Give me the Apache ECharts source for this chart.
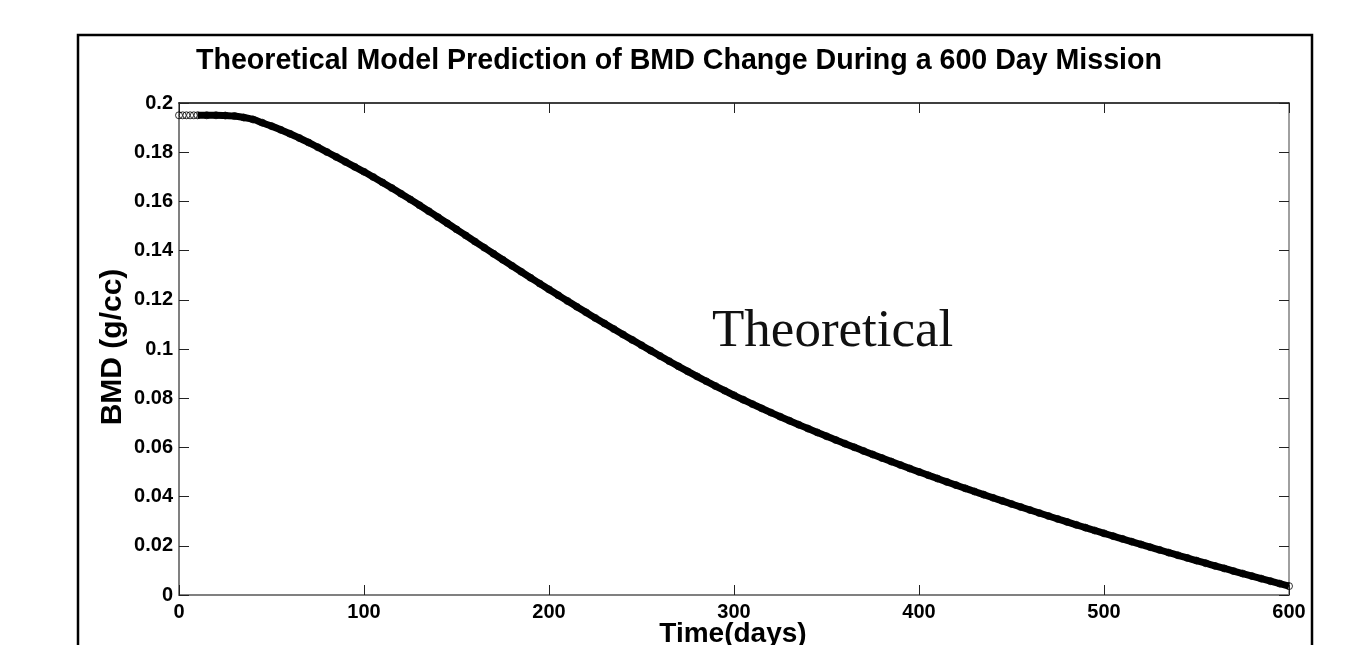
<!DOCTYPE html>
<html>
<head>
<meta charset="utf-8">
<script src="https://cdn.jsdelivr.net/npm/echarts@6/dist/echarts.min.js"></script>
<style>
html,body{margin:0;padding:0;background:#fff;}
#chart{width:1354px;height:645px;}
</style>
</head>
<body>
<div id="chart"></div>
<script>
const titleText = 'Theoretical Model Prediction of BMD Change During a 600 Day Mission';
const xAxisName = 'Time(days)';
const yAxisName = 'BMD (g/cc)';
const annotationText = 'Theoretical';

const days = [0,2,4,6,8,
  10,15,20,25,30,35,40,45,50,55,60,65,70,75,80,85,90,95,100,
  105,110,115,120,125,130,135,140,145,150,
  155,160,165,170,175,180,185,190,195,200,
  205,210,215,220,225,230,235,240,245,250,
  255,260,265,270,275,280,285,290,295,300,
  305,310,315,320,325,330,335,340,345,350,
  355,360,365,370,375,380,385,390,395,400,
  405,410,415,420,425,430,435,440,445,450,
  455,460,465,470,475,480,485,490,495,500,
  505,510,515,520,525,530,535,540,545,550,
  555,560,565,570,575,580,585,590,595,600];

const bmd = [0.1950,0.1950,0.1950,0.1950,0.1950,
  0.1950,0.1950,0.1950,0.1949,0.1947,0.1941,0.1933,0.1920,0.1906,0.1891,0.1875,0.18578,0.18395,0.18203,0.18007,0.17807,0.17605,0.17405,0.17205,
  0.16990,0.16770,0.16545,0.16315,0.16081,0.15843,0.15602,0.15358,0.15112,0.14864,
  0.14616,0.14368,0.14120,0.13873,0.13627,0.13382,0.13139,0.12898,0.12659,0.12422,
  0.12186,0.11952,0.11720,0.11490,0.11262,0.11036,0.10812,0.10590,0.10370,0.10152,
  0.09934,0.09718,0.09505,0.09295,0.09089,0.08887,0.08689,0.08495,0.08305,0.08119,
  0.07937,0.07759,0.07585,0.07415,0.07248,0.07084,0.06923,0.06765,0.06609,0.06455,
  0.06303,0.06153,0.06004,0.05857,0.05711,0.05567,0.05424,0.05283,0.05143,0.05005,
  0.04868,0.04733,0.04599,0.04467,0.04336,0.04207,0.04079,0.03952,0.03826,0.03701,
  0.03577,0.03454,0.03332,0.03211,0.03091,0.02972,0.02854,0.02737,0.02621,0.02506,
  0.02392,0.02279,0.02166,0.02054,0.01943,0.01833,0.01723,0.01614,0.01506,0.01398,
  0.01291,0.01185,0.01080,0.00975,0.00871,0.00768,0.00665,0.00563,0.00462,0.00362];

const xTickLabels = ['0','100','200','300','400','500','600'];
const yTickLabels = ['0','0.02','0.04','0.06','0.08','0.1','0.12','0.14','0.16','0.18','0.2'];

const FONT = '"Liberation Sans", Arial, sans-serif';
const pts = days.map((d, i) => [d, bmd[i]]);
const linePts = pts.filter(p => p[0] >= 10);

const chart = echarts.init(document.getElementById('chart'), null, {renderer: 'canvas'});

const tickStyle = {show: true, inside: true, length: 10, lineStyle: {color: '#222', width: 1}};

chart.setOption({
  backgroundColor: '#ffffff',
  animation: false,
  title: {
    text: titleText,
    left: 191, top: 42,
    textStyle: {fontFamily: FONT, fontWeight: 'bold', fontSize: 28.6, color: '#000'}
  },
  grid: {left: 179, top: 103, right: 65, bottom: 50, show: false, containLabel: false},
  xAxis: [{
    type: 'value', position: 'bottom', min: 0, max: 600, interval: 100,
    axisLine: {show: true, lineStyle: {color: '#808080', width: 2}},
    axisTick: tickStyle,
    splitLine: {show: false},
    axisLabel: {show: true, margin: 7, color: '#000', fontFamily: FONT, fontWeight: 'bold', fontSize: 20,
      formatter: v => xTickLabels[Math.round(v / 100)]}
  }, {
    type: 'value', position: 'top', min: 0, max: 600, interval: 100,
    axisLine: {show: true, onZero: false, lineStyle: {color: '#000', width: 1.5}},
    axisTick: tickStyle,
    splitLine: {show: false},
    axisLabel: {show: false}
  }],
  yAxis: [{
    type: 'value', position: 'left', min: 0, max: 0.2, interval: 0.02,
    axisLine: {show: true, onZero: false, lineStyle: {color: '#808080', width: 2}},
    axisTick: tickStyle,
    splitLine: {show: false},
    axisLabel: {show: true, margin: 6, color: '#000', fontFamily: FONT, fontWeight: 'bold', fontSize: 20,
      formatter: v => yTickLabels[Math.round(v / 0.02)]}
  }, {
    type: 'value', position: 'right', min: 0, max: 0.2, interval: 0.02,
    axisLine: {show: true, onZero: false, lineStyle: {color: '#808080', width: 1.5}},
    axisTick: tickStyle,
    splitLine: {show: false},
    axisLabel: {show: false}
  }],
  series: [{
    type: 'line',
    data: linePts,
    xAxisIndex: 0, yAxisIndex: 0,
    showSymbol: false,
    smooth: true,
    lineStyle: {color: '#000', width: 7},
    z: 2
  }, {
    type: 'scatter',
    data: pts,
    xAxisIndex: 0, yAxisIndex: 0,
    symbol: 'circle',
    symbolSize: 7,
    itemStyle: {color: 'rgba(255,255,255,0)', borderColor: '#000', borderWidth: 1},
    z: 3
  }],
  graphic: [{
    type: 'rect', silent: true,
    shape: {x: 78, y: 35, width: 1234, height: 700},
    style: {fill: 'none', stroke: '#000', lineWidth: 2.5},
    z: 10
  }, {
    type: 'text', silent: true,
    x: 113, y: 347, rotation: Math.PI / 2,
    style: {text: yAxisName, font: 'bold 30px ' + FONT, fill: '#000', align: 'center', verticalAlign: 'middle'},
    z: 10
  }, {
    type: 'text', silent: true,
    x: 733, y: 620,
    style: {text: xAxisName, font: 'bold 28px ' + FONT, fill: '#000', align: 'center', verticalAlign: 'top'},
    z: 10
  }, {
    type: 'text', silent: true,
    x: 712, y: 332,
    style: {text: annotationText, font: '53px "Liberation Serif", "Times New Roman", serif', fill: '#111', align: 'left', verticalAlign: 'middle'},
    z: 10
  }]
});
</script>
</body>
</html>
